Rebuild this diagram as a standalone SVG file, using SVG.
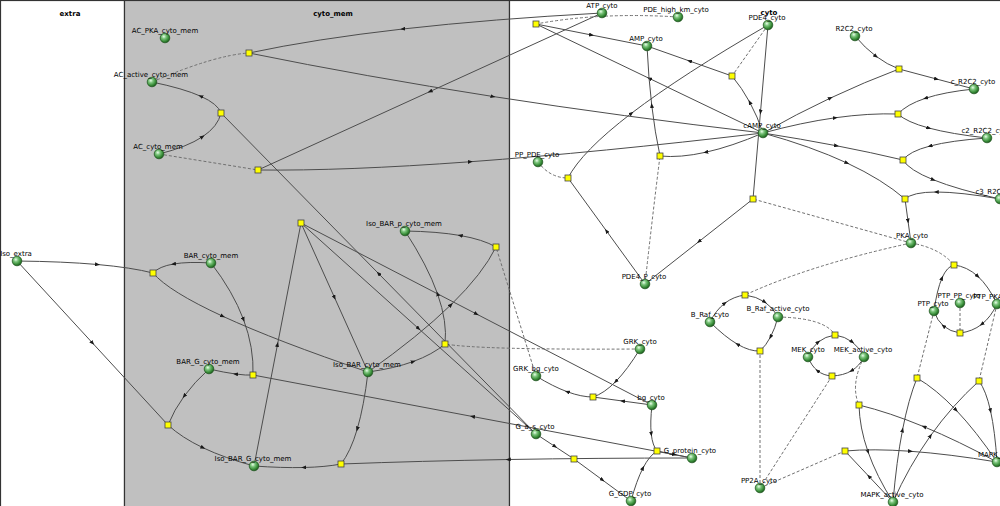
<svg xmlns="http://www.w3.org/2000/svg" width="1000" height="506" viewBox="0 0 1000 506">
<style>
.e{fill:none;stroke:#4d4d4d;stroke-width:1;marker-mid:url(#arr)}
.m{fill:none;stroke:#707070;stroke-width:1;stroke-dasharray:3,2}
.sp circle{fill:url(#ball);stroke:#245a24;stroke-width:0.8}
.rx rect{fill:#ffff00;stroke:#444;stroke-width:0.8}
text{font-family:"DejaVu Sans","Liberation Sans",sans-serif;font-size:7px;text-anchor:middle;fill:#000}
.cl{font-weight:bold}
.comp{stroke:#333;stroke-width:1.2}
</style>
<defs>
<radialGradient id="ball" cx="0.38" cy="0.35" r="0.65">
<stop offset="0" stop-color="#eaffea"/>
<stop offset="0.35" stop-color="#7cc47c"/>
<stop offset="0.75" stop-color="#3a8f3a"/>
<stop offset="1" stop-color="#1f5f1f"/>
</radialGradient>
<marker id="arr" viewBox="0 0 5 4" refX="2.5" refY="2" markerWidth="5" markerHeight="4" markerUnits="userSpaceOnUse" orient="auto">
<path d="M0,0 L5,2 L0,4 z" fill="#1a1a1a"/>
</marker>
</defs>
<g id="compartments">
<rect class="comp" x="0.5" y="0.5" width="124" height="520" fill="#ffffff"/>
<rect class="comp" x="124.5" y="0.5" width="385" height="520" fill="#c0c0c0"/>
<rect class="comp" x="509.5" y="0.5" width="500" height="520" fill="#ffffff"/>
<text class="cl" x="70" y="16">extra</text>
<text class="cl" x="333" y="16">cyto_mem</text>
<text class="cl" x="769" y="15">cyto</text>
</g>
<g id="connectors">
<path class="m" d="M152,82 Q215,55 249,53"/>
<path class="m" d="M159,154 L258,170"/>
<path class="m" d="M678,17 Q600,12 536,24"/>
<path class="m" d="M768,25 L732,76"/>
<path class="m" d="M911,243 L753,199"/>
<path class="m" d="M538,162 Q550,178 568,178"/>
<path class="m" d="M645,284 Q652,220 660,156"/>
<path class="m" d="M911,243 Q940,248 954,265"/>
<path class="m" d="M960,303 L960,333"/>
<path class="m" d="M911,243 Q810,265 745,295"/>
<path class="m" d="M760,488 L760,351"/>
<path class="m" d="M778,317 Q825,318 835,335"/>
<path class="m" d="M760,488 L832,376"/>
<path class="m" d="M864,357 Q850,385 859,405"/>
<path class="m" d="M760,488 L845,451"/>
<path class="m" d="M934,311 L917,378"/>
<path class="m" d="M997,304 L979,381"/>
<path class="m" d="M536,376 L496,247"/>
<path class="m" d="M640,349 Q480,350 445,344"/>

<path class="e" d="M602,13 Q491,19 402.75,29 Q314.5,39 249,53"/>
<path class="e" d="M249,53 Q364.5,76.5 493,96.5 Q621.5,116.5 763,133"/>
<path class="e" d="M602,13 L430,91.5 L258,170"/>
<path class="e" d="M258,170 Q344,171 470.25,161.75 Q596.5,152.5 763,133"/>
<path class="e" d="M159,154 Q187,147 202.5,136.75 Q218,126.5 221,113"/>
<path class="e" d="M536,434 L378.5,273.5 L221,113"/>
<path class="e" d="M221,113 Q218,104 200.75,96.25 Q183.5,88.5 152,82"/>
<path class="e" d="M763,133 L649.5,78.5 L536,24"/>
<path class="e" d="M536,24 L591.5,35 L647,46"/>
<path class="e" d="M763,133 Q757.5,116.5 749.75,102.25 Q742,88 732,76"/>
<path class="e" d="M732,76 L689.5,61 L647,46"/>
<path class="e" d="M768,25 L760.5,112 L753,199"/>
<path class="e" d="M753,199 L699,241.5 L645,284"/>
<path class="e" d="M645,284 L606.5,231 L568,178"/>
<path class="e" d="M568,178 Q581.5,151.5 631.5,113.25 Q681.5,75 768,25"/>
<path class="e" d="M763,133 Q731.5,146.5 705.75,152.25 Q680,158 660,156"/>
<path class="e" d="M660,156 Q655,133 651.75,105.5 Q648.5,78 647,46"/>
<path class="e" d="M855,36 Q865,48 876,56.25 Q887,64.5 899,69"/>
<path class="e" d="M763,133 Q796.5,114 830.5,98 Q864.5,82 899,69"/>
<path class="e" d="M899,69 L936.5,79 L974,89"/>
<path class="e" d="M974,89 Q944.5,92 925.5,98.25 Q906.5,104.5 898,114"/>
<path class="e" d="M763,133 Q801.5,122.5 835.25,117.75 Q869,113 898,114"/>
<path class="e" d="M898,114 Q906.5,122 928.75,128 Q951,134 987,138"/>
<path class="e" d="M987,138 Q951,140.5 930,146 Q909,151.5 903,160"/>
<path class="e" d="M763,133 Q801.5,139 836.5,145.75 Q871.5,152.5 903,160"/>
<path class="e" d="M903,160 Q909,170 933.25,179.75 Q957.5,189.5 1000,199"/>
<path class="e" d="M1000,199 Q960,192 936.25,192 Q912.5,192 905,199"/>
<path class="e" d="M763,133 Q811.5,146.5 847,163 Q882.5,179.5 905,199"/>
<path class="e" d="M905,199 L908,221 L911,243"/>
<path class="e" d="M934,311 Q937,289.5 942,278 Q947,266.5 954,265"/>
<path class="e" d="M954,265 Q967,266.5 977.75,276.25 Q988.5,286 997,304"/>
<path class="e" d="M997,304 Q991,317 981.75,324.25 Q972.5,331.5 960,333"/>
<path class="e" d="M960,333 Q950,331.5 943.5,326 Q937,320.5 934,311"/>
<path class="e" d="M710,322 Q716,310 724.75,303.25 Q733.5,296.5 745,295"/>
<path class="e" d="M745,295 Q756.5,296.5 764.75,302 Q773,307.5 778,317"/>
<path class="e" d="M778,317 Q775,328.5 770.5,337 Q766,345.5 760,351"/>
<path class="e" d="M760,351 Q750,351.5 737.5,344.25 Q725,337 710,322"/>
<path class="e" d="M808,357 Q811.5,347.5 818.25,342 Q825,336.5 835,335"/>
<path class="e" d="M835,335 Q845,336.5 852.25,342 Q859.5,347.5 864,357"/>
<path class="e" d="M864,357 Q859.5,366 851.5,370.75 Q843.5,375.5 832,376"/>
<path class="e" d="M832,376 Q823.5,375.5 817.5,370.75 Q811.5,366 808,357"/>
<path class="e" d="M997,462 Q958.5,441 924,426.75 Q889.5,412.5 859,405"/>
<path class="e" d="M859,405 Q859.5,427.5 868,451.75 Q876.5,476 893,502"/>
<path class="e" d="M893,502 L869,476.5 L845,451"/>
<path class="e" d="M845,451 Q872.5,448.5 910.5,451.25 Q948.5,454 997,462"/>
<path class="e" d="M893,502 Q896.5,461 902.5,430 Q908.5,399 917,378"/>
<path class="e" d="M917,378 Q936,389 956,410 Q976,431 997,462"/>
<path class="e" d="M893,502 Q909,466 930.5,435.75 Q952,405.5 979,381"/>
<path class="e" d="M979,381 Q986,390.5 990.5,410.75 Q995,431 997,462"/>
<path class="e" d="M17,261 Q63.5,261.5 97.5,264.5 Q131.5,267.5 153,273"/>
<path class="e" d="M211,263 Q188,261.5 173.5,264 Q159,266.5 153,273"/>
<path class="e" d="M153,273 Q169,291.5 222.75,316.25 Q276.5,341 368,372"/>
<path class="e" d="M17,261 L92.5,343 L168,425"/>
<path class="e" d="M209,369 Q194.5,382 184.25,396 Q174,410 168,425"/>
<path class="e" d="M168,425 Q181.5,437.5 203,447.75 Q224.5,458 254,466"/>
<path class="e" d="M211,263 Q233,291.5 243.5,319.5 Q254,347.5 253,375"/>
<path class="e" d="M692,458 L472.5,416.5 L253,375"/>
<path class="e" d="M253,375 Q246.5,375.5 235.5,374 Q224.5,372.5 209,369"/>
<path class="e" d="M368,372 Q364,406 357.25,429 Q350.5,452 341,464"/>
<path class="e" d="M692,458 Q596,458 508.25,459.5 Q420.5,461 341,464"/>
<path class="e" d="M341,464 Q325.5,467 303.75,467.5 Q282,468 254,466"/>
<path class="e" d="M254,466 L277.5,344.5 L301,223"/>
<path class="e" d="M301,223 L334.5,297.5 L368,372"/>
<path class="e" d="M301,223 L418.5,328.5 L536,434"/>
<path class="e" d="M301,223 L476.5,314 L652,405"/>
<path class="e" d="M368,372 Q419,336 451,304.75 Q483,273.5 496,247"/>
<path class="e" d="M496,247 Q483,239.5 460.25,235.5 Q437.5,231.5 405,231"/>
<path class="e" d="M368,372 Q394,368.5 413.25,361.5 Q432.5,354.5 445,344"/>
<path class="e" d="M445,344 Q447.5,322 437.5,293.75 Q427.5,265.5 405,231"/>
<path class="e" d="M640,349 Q627.5,369.5 615.75,381.5 Q604,393.5 593,397"/>
<path class="e" d="M652,405 L622.5,401 L593,397"/>
<path class="e" d="M593,397 Q581.5,397 567.25,391.75 Q553,386.5 536,376"/>
<path class="e" d="M536,434 L555,446.5 L574,459"/>
<path class="e" d="M574,459 L602.5,480 L631,501"/>
<path class="e" d="M652,405 Q650,422.5 651.25,434 Q652.5,445.5 657,451"/>
<path class="e" d="M631,501 Q636.5,480.5 643,468 Q649.5,455.5 657,451"/>
<path class="e" d="M657,451 L674.5,454.5 L692,458"/>
</g>
<g id="reactions" class="rx">
<g id="r1"><rect x="246" y="50" width="6" height="6"/></g>
<g id="r2"><rect x="255" y="167" width="6" height="6"/></g>
<g id="r3"><rect x="533" y="21" width="6" height="6"/></g>
<g id="r4"><rect x="729" y="73" width="6" height="6"/></g>
<g id="r5"><rect x="750" y="196" width="6" height="6"/></g>
<g id="r6"><rect x="565" y="175" width="6" height="6"/></g>
<g id="r7"><rect x="657" y="153" width="6" height="6"/></g>
<g id="r8"><rect x="896" y="66" width="6" height="6"/></g>
<g id="r9"><rect x="895" y="111" width="6" height="6"/></g>
<g id="r10"><rect x="900" y="157" width="6" height="6"/></g>
<g id="r11"><rect x="902" y="196" width="6" height="6"/></g>
<g id="r12"><rect x="951" y="262" width="6" height="6"/></g>
<g id="r13"><rect x="957" y="330" width="6" height="6"/></g>
<g id="r14"><rect x="742" y="292" width="6" height="6"/></g>
<g id="r15"><rect x="757" y="348" width="6" height="6"/></g>
<g id="r16"><rect x="832" y="332" width="6" height="6"/></g>
<g id="r17"><rect x="829" y="373" width="6" height="6"/></g>
<g id="r18"><rect x="856" y="402" width="6" height="6"/></g>
<g id="r19"><rect x="842" y="448" width="6" height="6"/></g>
<g id="r20"><rect x="914" y="375" width="6" height="6"/></g>
<g id="r21"><rect x="976" y="378" width="6" height="6"/></g>
<g id="r22"><rect x="150" y="270" width="6" height="6"/></g>
<g id="r23"><rect x="165" y="422" width="6" height="6"/></g>
<g id="r24"><rect x="250" y="372" width="6" height="6"/></g>
<g id="r25"><rect x="338" y="461" width="6" height="6"/></g>
<g id="r26"><rect x="298" y="220" width="6" height="6"/></g>
<g id="r27"><rect x="493" y="244" width="6" height="6"/></g>
<g id="r28"><rect x="442" y="341" width="6" height="6"/></g>
<g id="r29"><rect x="590" y="394" width="6" height="6"/></g>
<g id="r30"><rect x="571" y="456" width="6" height="6"/></g>
<g id="r31"><rect x="654" y="448" width="6" height="6"/></g>
<g id="r32"><rect x="218" y="110" width="6" height="6"/></g>
</g>
<g id="species" class="sp">
<g id="AC_PKA_cyto_mem"><circle cx="165" cy="38" r="4.8"/><text x="165" y="33">AC_PKA_cyto_mem</text></g>
<g id="AC_active_cyto_mem"><circle cx="152" cy="82" r="4.8"/><text x="151" y="77">AC_active_cyto_mem</text></g>
<g id="AC_cyto_mem"><circle cx="159" cy="154" r="4.8"/><text x="158" y="149">AC_cyto_mem</text></g>
<g id="ATP_cyto"><circle cx="602" cy="13" r="4.8"/><text x="602" y="8">ATP_cyto</text></g>
<g id="PDE_high_km_cyto"><circle cx="678" cy="17" r="4.8"/><text x="676" y="12">PDE_high_km_cyto</text></g>
<g id="AMP_cyto"><circle cx="647" cy="46" r="4.8"/><text x="646" y="41">AMP_cyto</text></g>
<g id="PDE4_cyto"><circle cx="768" cy="25" r="4.8"/><text x="767" y="20">PDE4_cyto</text></g>
<g id="R2C2_cyto"><circle cx="855" cy="36" r="4.8"/><text x="854" y="31">R2C2_cyto</text></g>
<g id="c_R2C2_cyto"><circle cx="974" cy="89" r="4.8"/><text x="973" y="84">c_R2C2_cyto</text></g>
<g id="c2_R2C2_cyto"><circle cx="987" cy="138" r="4.8"/><text x="986" y="133">c2_R2C2_cyto</text></g>
<g id="c3_R2C2_cyto"><circle cx="1000" cy="199" r="4.8"/><text x="1000" y="194">c3_R2C2_cyto</text></g>
<g id="cAMP_cyto"><circle cx="763" cy="133" r="4.8"/><text x="762" y="128">cAMP_cyto</text></g>
<g id="PP_PDE_cyto"><circle cx="538" cy="162" r="4.8"/><text x="537" y="157">PP_PDE_cyto</text></g>
<g id="PDE4_P_cyto"><circle cx="645" cy="284" r="4.8"/><text x="644" y="279">PDE4_P_cyto</text></g>
<g id="PKA_cyto"><circle cx="911" cy="243" r="4.8"/><text x="912" y="238">PKA_cyto</text></g>
<g id="PTP_PP_cyto"><circle cx="960" cy="303" r="4.8"/><text x="959" y="298">PTP_PP_cyto</text></g>
<g id="PTP_PKA_cyto"><circle cx="997" cy="304" r="4.8"/><text x="997" y="299">PTP_PKA_cyto</text></g>
<g id="PTP_cyto"><circle cx="934" cy="311" r="4.8"/><text x="933" y="306">PTP_cyto</text></g>
<g id="Iso_extra"><circle cx="17" cy="261" r="4.8"/><text x="16" y="256">Iso_extra</text></g>
<g id="BAR_cyto_mem"><circle cx="211" cy="263" r="4.8"/><text x="211" y="258">BAR_cyto_mem</text></g>
<g id="BAR_G_cyto_mem"><circle cx="209" cy="369" r="4.8"/><text x="208" y="364">BAR_G_cyto_mem</text></g>
<g id="Iso_BAR_G_cyto_mem"><circle cx="254" cy="466" r="4.8"/><text x="253" y="461">Iso_BAR_G_cyto_mem</text></g>
<g id="Iso_BAR_p_cyto_mem"><circle cx="405" cy="231" r="4.8"/><text x="404" y="226">Iso_BAR_p_cyto_mem</text></g>
<g id="Iso_BAR_cyto_mem"><circle cx="368" cy="372" r="4.8"/><text x="367" y="367">Iso_BAR_cyto_mem</text></g>
<g id="GRK_cyto"><circle cx="640" cy="349" r="4.8"/><text x="640" y="344">GRK_cyto</text></g>
<g id="GRK_bg_cyto"><circle cx="536" cy="376" r="4.8"/><text x="536" y="371">GRK_bg_cyto</text></g>
<g id="bg_cyto"><circle cx="652" cy="405" r="4.8"/><text x="651" y="400">bg_cyto</text></g>
<g id="G_a_s_cyto"><circle cx="536" cy="434" r="4.8"/><text x="535" y="429">G_a_s_cyto</text></g>
<g id="G_GDP_cyto"><circle cx="631" cy="501" r="4.8"/><text x="630" y="496">G_GDP_cyto</text></g>
<g id="G_protein_cyto"><circle cx="692" cy="458" r="4.8"/><text x="690" y="453">G_protein_cyto</text></g>
<g id="PP2A_cyto"><circle cx="760" cy="488" r="4.8"/><text x="759" y="483">PP2A_cyto</text></g>
<g id="B_Raf_cyto"><circle cx="710" cy="322" r="4.8"/><text x="710" y="317">B_Raf_cyto</text></g>
<g id="B_Raf_active_cyto"><circle cx="778" cy="317" r="4.8"/><text x="778" y="311">B_Raf_active_cyto</text></g>
<g id="MEK_cyto"><circle cx="808" cy="357" r="4.8"/><text x="808" y="352">MEK_cyto</text></g>
<g id="MEK_active_cyto"><circle cx="864" cy="357" r="4.8"/><text x="863" y="352">MEK_active_cyto</text></g>
<g id="MAPK_active_cyto"><circle cx="893" cy="502" r="4.8"/><text x="892" y="497">MAPK_active_cyto</text></g>
<g id="MAPK_cyto"><circle cx="997" cy="462" r="4.8"/><text x="997" y="457">MAPK_cyto</text></g>
</g>
</svg>
